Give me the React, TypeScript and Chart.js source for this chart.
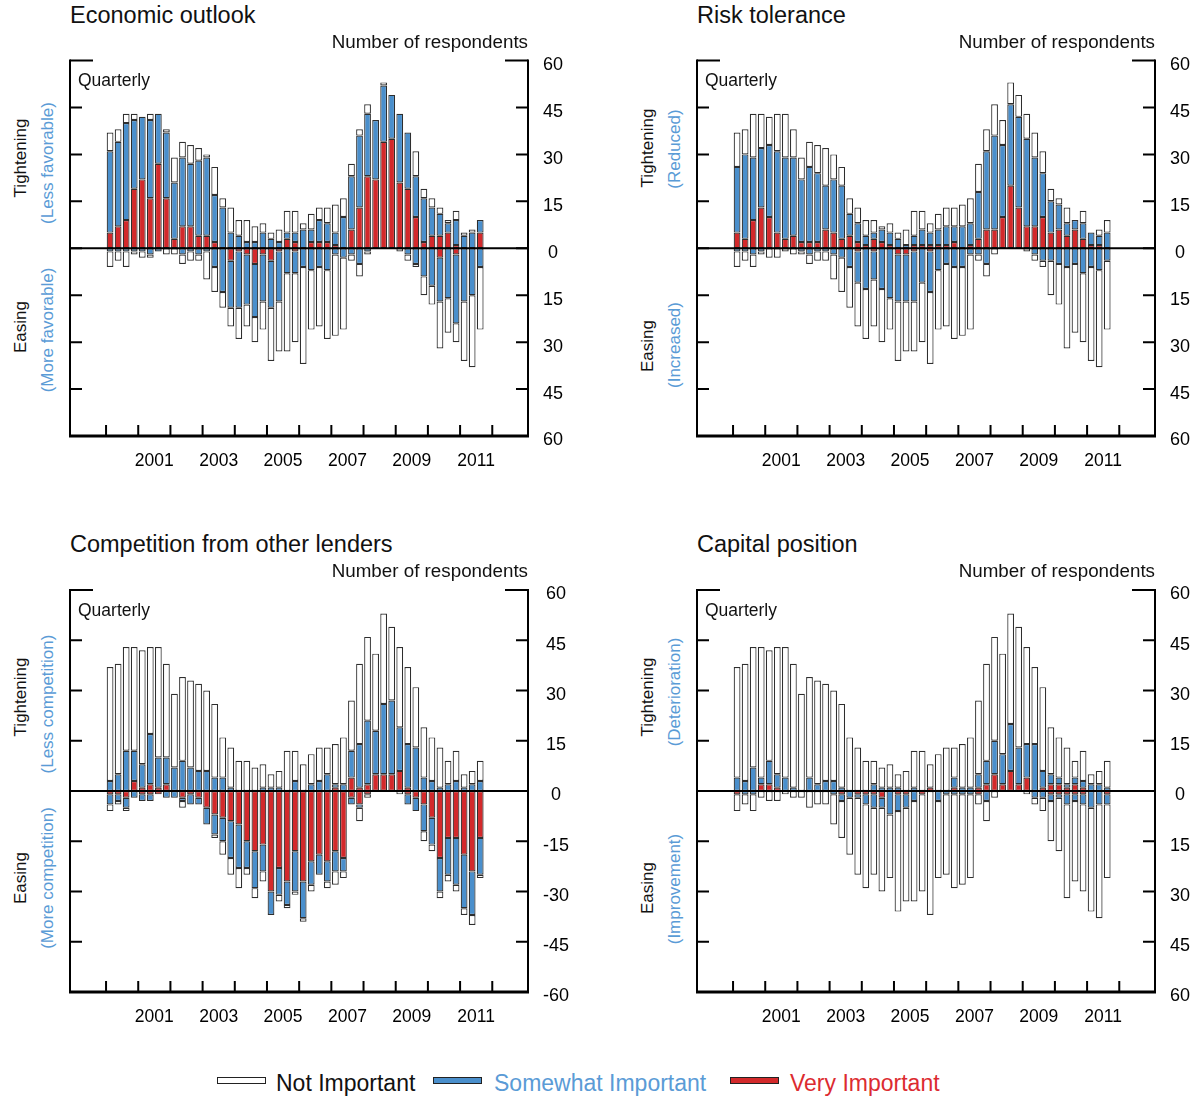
import React, { useEffect, useRef } from "react";
import { Chart, registerables } from "chart.js";

Chart.register(...registerables);

const FONT = "'Liberation Sans', Arial, Helvetica, sans-serif";

// ---------- data ----------
const quarters = [
  "2000 Q1", "2000 Q2", "2000 Q3", "2000 Q4",
  "2001 Q1", "2001 Q2", "2001 Q3", "2001 Q4",
  "2002 Q1", "2002 Q2", "2002 Q3", "2002 Q4",
  "2003 Q1", "2003 Q2", "2003 Q3", "2003 Q4",
  "2004 Q1", "2004 Q2", "2004 Q3", "2004 Q4",
  "2005 Q1", "2005 Q2", "2005 Q3", "2005 Q4",
  "2006 Q1", "2006 Q2", "2006 Q3", "2006 Q4",
  "2007 Q1", "2007 Q2", "2007 Q3", "2007 Q4",
  "2008 Q1", "2008 Q2", "2008 Q3", "2008 Q4",
  "2009 Q1", "2009 Q2", "2009 Q3", "2009 Q4",
  "2010 Q1", "2010 Q2", "2010 Q3", "2010 Q4",
  "2011 Q1", "2011 Q2", "2011 Q3",
];

const yearMarks = [2000, 2001, 2002, 2003, 2004, 2005, 2006, 2007, 2008, 2009, 2010, 2011, 2012];
const yearLabels = [2001, 2003, 2005, 2007, 2009, 2011];
const yTicks = [60, 45, 30, 15, 0, -15, -30, -45, -60];

// respondents reporting tightening / easing (all reasons)
const tighteningTotal = [37, 38, 43, 43, 42, 43, 43, 38, 29, 34, 33, 32, 30, 26, 16, 13, 9, 9, 7, 8, 5, 6, 12, 12, 8, 11, 13, 13, 14, 16, 27, 38, 46, 41, 53, 49, 43, 37, 31, 19, 16, 13, 9, 12, 5, 6, 9];
const easingTotal = [6, 4, 6, 2, 3, 3, 1, 2, 2, 5, 4, 4, 10, 14, 19, 25, 29, 25, 30, 26, 36, 33, 33, 30, 37, 26, 25, 29, 28, 26, 4, 9, 2, 0, 0, 0, 1, 4, 6, 15, 18, 32, 27, 30, 36, 38, 26];
const easingTotalCompetition = [6, 4, 6, 2, 3, 3, 1, 2, 2, 5, 4, 4, 10, 14, 19, 25, 29, 25, 32, 27, 37, 33, 35, 31, 39, 30, 25, 29, 28, 26, 4, 9, 2, 0, 0, 0, 1, 4, 6, 15, 18, 32, 27, 30, 37, 40, 26];

// Economic outlook
const econTightVery = [5, 7, 9, 19, 22, 16, 27, 16, 3, 7, 7, 4, 4, 2, 0, 0, 0, 0, 0, 0, 0, 0, 3, 2, 0, 2, 2, 2, 1, 0, 6, 13, 23, 22, 34, 35, 21, 19, 10, 2, 4, 4, 5, 1, 0, 0, 5];
const econTightSome = [26, 27, 31, 22, 20, 25, 16, 21, 18, 22, 20, 24, 25, 15, 13, 5, 4, 2, 2, 5, 3, 2, 2, 3, 6, 4, 7, 6, 4, 10, 17, 23, 20, 19, 18, 14, 22, 18, 13, 14, 9, 7, 3, 8, 4, 5, 4];
const econEaseVery = [0, 0, 0, 0, 0, 0, 0, 0, 0, 0, 0, 0, 0, 0, 0, 4, 1, 2, 5, 2, 4, 1, 0, 1, 0, 0, 0, 0, 0, 0, 0, 0, 0, 0, 0, 0, 0, 0, 0, 0, 0, 3, 0, 2, 0, 0, 0];
const econEaseSome = [1, 1, 1, 1, 1, 2, 1, 0, 0, 2, 1, 2, 1, 6, 14, 15, 18, 16, 17, 15, 15, 16, 8, 7, 6, 7, 6, 7, 2, 3, 2, 5, 1, 0, 0, 0, 0, 2, 5, 9, 12, 14, 16, 22, 17, 15, 6];

// Risk tolerance
const riskTightVery = [5, 3, 9, 13, 10, 5, 3, 4, 2, 2, 2, 6, 5, 3, 4, 2, 1, 3, 2, 1, 0, 0, 1, 1, 1, 1, 1, 2, 0, 1, 3, 6, 6, 10, 20, 13, 7, 7, 10, 5, 6, 4, 6, 3, 1, 1, 0];
const riskTightSome = [21, 27, 20, 19, 23, 26, 26, 25, 20, 24, 22, 14, 17, 17, 7, 6, 3, 2, 4, 4, 3, 1, 3, 5, 4, 5, 6, 5, 7, 7, 15, 25, 30, 23, 26, 29, 28, 22, 14, 10, 8, 4, 3, 5, 4, 3, 5];
const riskEaseVery = [0, 0, 0, 0, 0, 0, 0, 0, 0, 0, 0, 0, 0, 0, 0, 1, 0, 1, 0, 0, 2, 2, 1, 0, 1, 0, 0, 0, 0, 0, 0, 0, 0, 0, 0, 0, 0, 0, 0, 0, 0, 0, 0, 0, 0, 0, 0];
const riskEaseSome = [1, 1, 2, 1, 0, 0, 0, 0, 1, 2, 1, 1, 2, 3, 6, 10, 13, 9, 13, 16, 15, 15, 16, 11, 13, 7, 5, 6, 6, 2, 2, 5, 0, 0, 0, 0, 0, 2, 4, 4, 5, 6, 5, 8, 6, 7, 4];

// Competition from other lenders
const compTightVery = [0, 0, 0, 3, 1, 2, 1, 2, 0, 0, 0, 0, 0, 0, 0, 0, 0, 0, 0, 0, 0, 0, 0, 0, 0, 0, 0, 0, 1, 0, 4, 1, 2, 5, 5, 5, 6, 1, 0, 0, 0, 0, 0, 0, 0, 0, 0];
const compTightSome = [3, 5, 12, 9, 7, 15, 9, 8, 7, 9, 7, 6, 6, 4, 4, 1, 0, 0, 0, 1, 1, 1, 0, 3, 0, 2, 3, 5, 1, 2, 8, 13, 19, 13, 21, 22, 13, 13, 13, 4, 3, 1, 2, 3, 1, 2, 3];
const compEaseVery = [1, 1, 2, 0, 1, 1, 1, 0, 0, 2, 1, 2, 5, 7, 8, 9, 10, 15, 18, 16, 30, 23, 27, 18, 27, 21, 19, 21, 18, 20, 2, 4, 1, 0, 0, 0, 0, 1, 2, 4, 8, 20, 14, 14, 19, 24, 14];
const compEaseSome = [3, 2, 3, 2, 2, 2, 0, 2, 2, 1, 3, 2, 5, 6, 7, 11, 13, 8, 11, 8, 7, 8, 7, 12, 11, 7, 6, 6, 6, 4, 2, 1, 0, 0, 0, 0, 0, 3, 4, 8, 8, 10, 11, 14, 16, 13, 11];

// Capital position
const capTightVery = [0, 0, 0, 2, 2, 1, 0, 0, 0, 0, 0, 0, 0, 0, 0, 0, 0, 0, 0, 0, 0, 0, 0, 0, 1, 0, 0, 1, 0, 0, 1, 2, 5, 2, 6, 2, 4, 0, 1, 2, 2, 1, 2, 1, 0, 0, 0];
const capTightSome = [4, 3, 7, 2, 7, 4, 4, 1, 0, 4, 2, 3, 3, 1, 0, 0, 0, 2, 1, 1, 1, 0, 1, 0, 0, 0, 0, 3, 1, 1, 4, 7, 10, 9, 14, 11, 10, 14, 5, 3, 2, 1, 2, 2, 2, 2, 1];
const capEaseVery = [1, 0, 0, 0, 0, 0, 0, 0, 0, 0, 0, 0, 0, 1, 0, 1, 1, 1, 2, 0, 1, 1, 0, 1, 0, 0, 0, 0, 0, 0, 1, 0, 0, 0, 0, 0, 0, 0, 0, 1, 1, 1, 1, 1, 0, 0, 1];
const capEaseSome = [0, 1, 1, 0, 0, 0, 0, 0, 0, 0, 0, 0, 1, 2, 2, 1, 3, 4, 3, 7, 5, 4, 3, 0, 0, 3, 1, 1, 1, 1, 0, 3, 0, 0, 0, 0, 0, 2, 2, 2, 1, 3, 2, 3, 5, 4, 3];

// ---------- styles ----------
const COLORS = {
  not: "#ffffff",
  some: "#4a8fcc",
  very: "#d3292b",
  edge: "#2e2e2e",
  blueText: "#5a9bd6",
  redText: "#dc2b30",
};

type PanelCfg = {
  title: string;
  tightSub: string;
  easeSub: string;
  tightVery: number[];
  tightSome: number[];
  easeVery: number[];
  easeSome: number[];
  tightTotal: number[];
  easeTotal: number[];
  signed: boolean;
  area: { l: number; r: number; t: number; b: number };
  labelY: { tight: number; tightSub: number; ease: number; easeSub: number };
};

const panels: PanelCfg[] = [
  {
    title: "Economic outlook",
    tightSub: "(Less favorable)",
    easeSub: "(More favorable)",
    tightVery: econTightVery,
    tightSome: econTightSome,
    easeVery: econEaseVery,
    easeSome: econEaseSome,
    tightTotal: tighteningTotal,
    easeTotal: easingTotal,
    signed: false,
    area: { l: 70, r: 528, t: 60.5, b: 436 },
    labelY: { tight: 158, tightSub: 163, ease: 327, easeSub: 330 },
  },
  {
    title: "Risk tolerance",
    tightSub: "(Reduced)",
    easeSub: "(Increased)",
    tightVery: riskTightVery,
    tightSome: riskTightSome,
    easeVery: riskEaseVery,
    easeSome: riskEaseSome,
    tightTotal: tighteningTotal,
    easeTotal: easingTotal,
    signed: false,
    area: { l: 697, r: 1155, t: 60.5, b: 436 },
    labelY: { tight: 148, tightSub: 149, ease: 346, easeSub: 345 },
  },
  {
    title: "Competition from other lenders",
    tightSub: "(Less competition)",
    easeSub: "(More competition)",
    tightVery: compTightVery,
    tightSome: compTightSome,
    easeVery: compEaseVery,
    easeSome: compEaseSome,
    tightTotal: tighteningTotal,
    easeTotal: easingTotalCompetition,
    signed: true,
    area: { l: 70, r: 528, t: 590, b: 992 },
    labelY: { tight: 697, tightSub: 704, ease: 878, easeSub: 878 },
  },
  {
    title: "Capital position",
    tightSub: "(Deterioration)",
    easeSub: "(Improvement)",
    tightVery: capTightVery,
    tightSome: capTightSome,
    easeVery: capEaseVery,
    easeSome: capEaseSome,
    tightTotal: tighteningTotal,
    easeTotal: easingTotal,
    signed: false,
    area: { l: 697, r: 1155, t: 590, b: 992 },
    labelY: { tight: 697, tightSub: 692, ease: 888, easeSub: 889 },
  },
];

const quarterToX = (label: string) => {
  const [y, q] = label.split(" Q");
  return Number(y) + (Number(q) - 0.5) / 4;
};

const framePlugin = {
  id: "frame",
  afterDatasetsDraw(chart: any) {
    const { ctx, chartArea, scales } = chart;
    const { left, right, top, bottom } = chartArea;
    const x = scales.x;
    const y = scales.y;
    ctx.save();
    ctx.strokeStyle = "#000";
    ctx.lineCap = "butt";
    // zero line
    const y0 = y.getPixelForValue(0);
    ctx.lineWidth = 2;
    ctx.beginPath();
    ctx.moveTo(left, y0);
    ctx.lineTo(right, y0);
    ctx.stroke();
    // side axes
    ctx.lineWidth = 2;
    ctx.beginPath();
    ctx.moveTo(left, top - 1);
    ctx.lineTo(left, bottom);
    ctx.moveTo(right, top - 1);
    ctx.lineTo(right, bottom);
    ctx.stroke();
    // y ticks
    ctx.lineWidth = 2;
    ctx.beginPath();
    yTicks.forEach((v) => {
      if (v === -60) return;
      const py = y.getPixelForValue(v);
      const len = v === 60 ? 23 : 12;
      ctx.moveTo(left, py);
      ctx.lineTo(left + len, py);
      ctx.moveTo(right - len, py);
      ctx.lineTo(right, py);
    });
    ctx.stroke();
    // bottom axis
    ctx.lineWidth = 3;
    ctx.beginPath();
    ctx.moveTo(left - 1, bottom);
    ctx.lineTo(right + 1, bottom);
    ctx.stroke();
    // year ticks
    ctx.lineWidth = 2;
    ctx.beginPath();
    yearMarks.forEach((yr) => {
      const px = x.getPixelForValue(yr);
      ctx.moveTo(px, bottom);
      ctx.lineTo(px, bottom - 11);
    });
    ctx.stroke();
    ctx.restore();
  },
};

function PanelChart({ cfg }: { cfg: PanelCfg }) {
  const ref = useRef<HTMLCanvasElement>(null);
  const { l, r, t, b } = cfg.area;
  const cLeft = l - 10;
  const cTop = Math.floor(t) - 10;
  const cW = r - l + 102;
  const cH = b - cTop + 44;

  useEffect(() => {
    const canvas = ref.current;
    if (!canvas) return;
    const xs = quarters.map(quarterToX);
    const seg = (lo: number[], hi: number[]) =>
      xs.map((x, i) => ({ x, y: hi[i] > lo[i] ? [lo[i], hi[i]] : null }));

    const zeros = xs.map(() => 0);
    const tV = cfg.tightVery;
    const tVS = cfg.tightVery.map((v, i) => v + cfg.tightSome[i]);
    const tAll = cfg.tightTotal;
    const eV = cfg.easeVery.map((v) => -v);
    const eVS = cfg.easeVery.map((v, i) => -(v + cfg.easeSome[i]));
    const eAll = cfg.easeTotal.map((v) => -v);

    const base = {
      borderColor: COLORS.edge,
      borderWidth: 1.2,
      borderSkipped: false,
      grouped: false,
      barPercentage: 0.84,
      categoryPercentage: 1,
    };

    const chart = new Chart(canvas, {
      type: "bar",
      data: {
        datasets: [
          { ...base, label: "Very Important", data: seg(zeros, tV), backgroundColor: COLORS.very },
          { ...base, label: "Somewhat Important", data: seg(tV, tVS), backgroundColor: COLORS.some },
          { ...base, label: "Not Important", data: seg(tVS, tAll), backgroundColor: COLORS.not },
          { ...base, label: "Very Important (easing)", data: seg(eV, zeros), backgroundColor: COLORS.very },
          { ...base, label: "Somewhat Important (easing)", data: seg(eVS, eV), backgroundColor: COLORS.some },
          { ...base, label: "Not Important (easing)", data: seg(eAll, eVS), backgroundColor: COLORS.not },
        ] as any,
      },
      options: {
        animation: false,
        responsive: false,
        maintainAspectRatio: false,
        layout: {
          padding: { left: l - cLeft, top: t - cTop, right: 32, bottom: 14 },
        },
        plugins: {
          legend: { display: false },
          tooltip: { enabled: false },
        },
        scales: {
          x: {
            type: "linear",
            offset: false,
            min: 1998.88,
            max: 2013.11,
            bounds: "ticks",
            grid: { display: false, drawTicks: false, offset: false },
            border: { display: false },
            afterBuildTicks: (s: any) => {
              s.ticks = yearLabels.map((yr) => ({ value: yr + 0.5 }));
            },
            afterFit: (s: any) => {
              s.height = 30;
              s.paddingLeft = 0;
              s.paddingRight = 0;
            },
            ticks: {
              autoSkip: false,
              maxRotation: 0,
              padding: 14.5,
              color: "#000",
              font: { family: FONT, size: 17.5 },
              callback: (v: any) => String(Math.floor(Number(v))),
            },
          },
          y: {
            position: "right",
            min: -60,
            max: 60,
            grid: { display: false, drawTicks: false },
            border: { display: false },
            afterBuildTicks: (s: any) => {
              s.ticks = yTicks.map((v) => ({ value: v }));
            },
            afterFit: (s: any) => {
              s.width = 60;
              s.paddingTop = 0;
              s.paddingBottom = 0;
            },
            ticks: {
              padding: 15,
              labelOffset: 4.5,
              crossAlign: "center",
              color: "#000",
              font: { family: FONT, size: 18 },
              callback: (v: any) => (cfg.signed ? String(v) : String(Math.abs(Number(v)))),
            },
          },
        },
      } as any,
      plugins: [framePlugin],
    });
    return () => chart.destroy();
  }, []);

  const textBase: React.CSSProperties = {
    position: "absolute",
    fontFamily: FONT,
    whiteSpace: "nowrap",
    lineHeight: 1,
  };
  const rot = (x: number, y: number, color: string): React.CSSProperties => ({
    ...textBase,
    left: x,
    top: y,
    fontSize: 17,
    color,
    transform: "translate(-50%, -50%) rotate(-90deg)",
  });

  return (
    <>
      <canvas
        ref={ref}
        width={cW}
        height={cH}
        style={{ position: "absolute", left: cLeft, top: cTop, width: cW, height: cH }}
      />
      <div style={{ ...textBase, left: l, top: t - 45, fontSize: 23.5, color: "#111", transform: "translateY(-50%)" }}>
        {cfg.title}
      </div>
      <div style={{ ...textBase, left: r, top: t - 19, fontSize: 18.8, color: "#111", transform: "translate(-100%, -50%)" }}>
        Number of respondents
      </div>
      <div style={{ ...textBase, left: l + 8, top: t + 20.5, fontSize: 17.5, color: "#111", transform: "translateY(-50%)" }}>
        Quarterly
      </div>
      <div style={rot(l - 50, cfg.labelY.tight, "#111")}>Tightening</div>
      <div style={rot(l - 23, cfg.labelY.tightSub, COLORS.blueText)}>{cfg.tightSub}</div>
      <div style={rot(l - 50, cfg.labelY.ease, "#111")}>Easing</div>
      <div style={rot(l - 23, cfg.labelY.easeSub, COLORS.blueText)}>{cfg.easeSub}</div>
    </>
  );
}

const legendItems = [
  { label: "Not Important", fill: COLORS.not, text: "#111", box: 217, tx: 276 },
  { label: "Somewhat Important", fill: COLORS.some, text: COLORS.blueText, box: 433, tx: 494 },
  { label: "Very Important", fill: COLORS.very, text: COLORS.redText, box: 730, tx: 790 },
];

export default function App() {
  return (
    <div style={{ position: "absolute", left: 0, top: 0, width: 1199, height: 1097, background: "#fff", overflow: "hidden" }}>
      {panels.map((p) => (
        <PanelChart key={p.title} cfg={p} />
      ))}
      {legendItems.map((it) => (
        <React.Fragment key={it.label}>
          <div
            style={{
              position: "absolute",
              left: it.box,
              top: 1077,
              width: 49,
              height: 7,
              boxSizing: "border-box",
              background: it.fill,
              border: "1px solid #222",
            }}
          />
          <div
            style={{
              position: "absolute",
              left: it.tx,
              top: 1083,
              transform: "translateY(-50%)",
              fontFamily: FONT,
              fontSize: 23,
              lineHeight: 1,
              color: it.text,
              whiteSpace: "nowrap",
            }}
          >
            {it.label}
          </div>
        </React.Fragment>
      ))}
    </div>
  );
}
